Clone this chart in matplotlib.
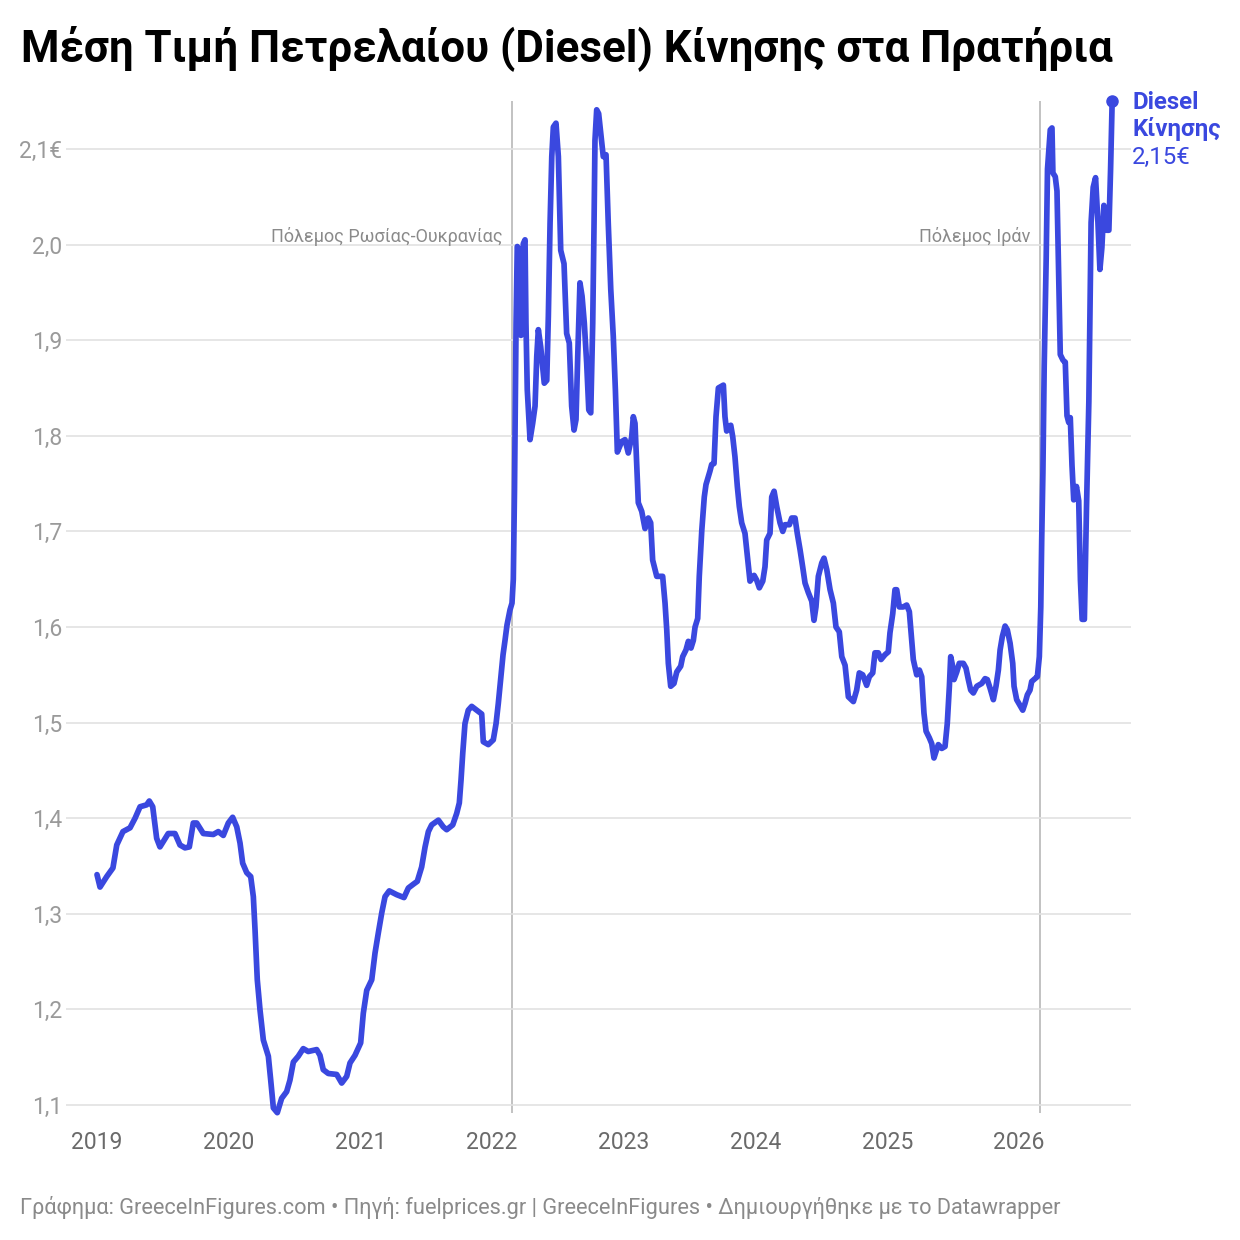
import matplotlib
matplotlib.use("Agg")
import matplotlib.pyplot as plt
from matplotlib.ticker import FixedLocator

plt.rcParams['font.family'] = ['Roboto', 'DejaVu Sans']

# ---------------- data ----------------
years = [
    2019.000, 2019.023, 2019.074, 2019.121, 2019.150, 2019.197, 2019.251, 2019.289, 2019.327, 2019.377,
    2019.397, 2019.423, 2019.453, 2019.478, 2019.541, 2019.592, 2019.630, 2019.668, 2019.701, 2019.731,
    2019.757, 2019.807, 2019.883, 2019.921, 2019.959, 2019.997, 2020.030, 2020.061, 2020.086, 2020.106,
    2020.137, 2020.167, 2020.187, 2020.200, 2020.217, 2020.238, 2020.263, 2020.301, 2020.319, 2020.339,
    2020.369, 2020.402, 2020.440, 2020.465, 2020.491, 2020.528, 2020.566, 2020.604, 2020.668, 2020.693,
    2020.718, 2020.756, 2020.820, 2020.858, 2020.896, 2020.921, 2020.959, 2021.002, 2021.022, 2021.048,
    2021.086, 2021.111, 2021.136, 2021.162, 2021.187, 2021.219, 2021.276, 2021.331, 2021.364, 2021.402,
    2021.432, 2021.465, 2021.491, 2021.516, 2021.541, 2021.592, 2021.629, 2021.655, 2021.701, 2021.731,
    2021.751, 2021.764, 2021.777, 2021.794, 2021.819, 2021.845, 2021.883, 2021.921, 2021.933, 2021.971,
    2022.009, 2022.030, 2022.047, 2022.065, 2022.083, 2022.098, 2022.113, 2022.136, 2022.151, 2022.161,
    2022.170, 2022.182, 2022.191, 2022.207, 2022.219, 2022.237, 2022.250, 2022.257, 2022.267, 2022.288,
    2022.308, 2022.326, 2022.339, 2022.351, 2022.369, 2022.384, 2022.396, 2022.415, 2022.427, 2022.440,
    2022.453, 2022.465, 2022.485, 2022.503, 2022.521, 2022.546, 2022.566, 2022.586, 2022.604, 2022.622,
    2022.637, 2022.650, 2022.667, 2022.683, 2022.700, 2022.718, 2022.734, 2022.749, 2022.764, 2022.774,
    2022.781, 2022.794, 2022.809, 2022.825, 2022.844, 2022.865, 2022.882, 2022.901, 2022.920, 2022.936,
    2022.951, 2022.984, 2023.009, 2023.034, 2023.060, 2023.072, 2023.085, 2023.098, 2023.110, 2023.136,
    2023.161, 2023.186, 2023.204, 2023.219, 2023.250, 2023.295, 2023.313, 2023.326, 2023.338, 2023.356,
    2023.381, 2023.402, 2023.432, 2023.447, 2023.472, 2023.490, 2023.510, 2023.528, 2023.541, 2023.561,
    2023.573, 2023.592, 2023.611, 2023.624, 2023.654, 2023.667, 2023.685, 2023.700, 2023.718, 2023.756,
    2023.768, 2023.781, 2023.812, 2023.827, 2023.844, 2023.862, 2023.877, 2023.895, 2023.920, 2023.938,
    2023.958, 2023.989, 2024.009, 2024.029, 2024.055, 2024.072, 2024.085, 2024.110, 2024.123, 2024.141,
    2024.161, 2024.186, 2024.207, 2024.224, 2024.257, 2024.275, 2024.300, 2024.317, 2024.338, 2024.358,
    2024.376, 2024.401, 2024.427, 2024.444, 2024.459, 2024.477, 2024.503, 2024.520, 2024.541, 2024.566,
    2024.591, 2024.611, 2024.636, 2024.655, 2024.680, 2024.705, 2024.743, 2024.768, 2024.788, 2024.814,
    2024.844, 2024.864, 2024.890, 2024.907, 2024.932, 2024.953, 2024.983, 2025.008, 2025.021, 2025.042,
    2025.059, 2025.072, 2025.092, 2025.122, 2025.148, 2025.168, 2025.186, 2025.198, 2025.224, 2025.244,
    2025.262, 2025.279, 2025.295, 2025.320, 2025.338, 2025.355, 2025.371, 2025.388, 2025.414, 2025.439,
    2025.456, 2025.472, 2025.482, 2025.497, 2025.507, 2025.528, 2025.547, 2025.578, 2025.598, 2025.616,
    2025.634, 2025.654, 2025.680, 2025.718, 2025.743, 2025.760, 2025.781, 2025.806, 2025.826, 2025.844,
    2025.857, 2025.874, 2025.895, 2025.912, 2025.933, 2025.953, 2025.963, 2025.983, 2026.008, 2026.029,
    2026.046, 2026.064, 2026.084, 2026.097, 2026.122, 2026.140, 2026.155, 2026.166, 2026.173, 2026.182,
    2026.192, 2026.207, 2026.217, 2026.238, 2026.251, 2026.258, 2026.276, 2026.289, 2026.302, 2026.314,
    2026.335, 2026.352, 2026.365, 2026.378, 2026.390, 2026.403, 2026.416, 2026.437, 2026.454, 2026.467,
    2026.480, 2026.497, 2026.513, 2026.531, 2026.548, 2026.564, 2026.582, 2026.600, 2026.615, 2026.630,
    2026.645, 2026.666, 2026.683, 2026.696, 2026.708,
]
prices = [
    1.341, 1.328, 1.339, 1.348, 1.372, 1.386, 1.390, 1.400, 1.412, 1.414,
    1.418, 1.412, 1.379, 1.370, 1.384, 1.384, 1.372, 1.369, 1.370, 1.395,
    1.395, 1.384, 1.383, 1.386, 1.382, 1.395, 1.401, 1.391, 1.374, 1.353,
    1.343, 1.339, 1.318, 1.283, 1.231, 1.199, 1.168, 1.151, 1.126, 1.097,
    1.092, 1.107, 1.114, 1.126, 1.145, 1.151, 1.159, 1.156, 1.158, 1.152,
    1.137, 1.133, 1.132, 1.123, 1.130, 1.144, 1.152, 1.165, 1.196, 1.220,
    1.231, 1.259, 1.280, 1.301, 1.318, 1.324, 1.320, 1.317, 1.327, 1.331,
    1.334, 1.349, 1.370, 1.386, 1.393, 1.398, 1.391, 1.388, 1.393, 1.405,
    1.416, 1.440, 1.468, 1.499, 1.513, 1.517, 1.513, 1.509, 1.480, 1.477,
    1.482, 1.499, 1.520, 1.545, 1.571, 1.586, 1.602, 1.618, 1.625, 1.650,
    1.743, 1.918, 1.998, 1.994, 1.905, 2.001, 2.005, 1.918, 1.848, 1.796,
    1.813, 1.831, 1.883, 1.911, 1.893, 1.872, 1.855, 1.858, 1.925, 2.022,
    2.092, 2.123, 2.127, 2.092, 1.994, 1.980, 1.907, 1.897, 1.831, 1.806,
    1.817, 1.883, 1.960, 1.946, 1.918, 1.876, 1.827, 1.824, 1.918, 2.022,
    2.109, 2.141, 2.137, 2.116, 2.092, 2.094, 2.022, 1.953, 1.904, 1.848,
    1.783, 1.794, 1.796, 1.782, 1.799, 1.820, 1.813, 1.771, 1.730, 1.721,
    1.703, 1.714, 1.709, 1.670, 1.653, 1.653, 1.625, 1.597, 1.562, 1.538,
    1.541, 1.553, 1.559, 1.569, 1.576, 1.585, 1.578, 1.586, 1.600, 1.609,
    1.653, 1.701, 1.736, 1.749, 1.763, 1.770, 1.771, 1.820, 1.850, 1.853,
    1.820, 1.805, 1.811, 1.799, 1.778, 1.747, 1.726, 1.709, 1.698, 1.674,
    1.648, 1.654, 1.649, 1.641, 1.648, 1.663, 1.691, 1.698, 1.736, 1.742,
    1.726, 1.709, 1.700, 1.707, 1.707, 1.714, 1.714, 1.698, 1.681, 1.663,
    1.646, 1.636, 1.627, 1.607, 1.621, 1.653, 1.667, 1.672, 1.660, 1.639,
    1.625, 1.600, 1.595, 1.569, 1.560, 1.527, 1.522, 1.534, 1.552, 1.550,
    1.539, 1.548, 1.552, 1.573, 1.573, 1.566, 1.571, 1.574, 1.594, 1.614,
    1.639, 1.639, 1.621, 1.621, 1.623, 1.616, 1.586, 1.566, 1.550, 1.555,
    1.548, 1.510, 1.491, 1.484, 1.478, 1.463, 1.470, 1.477, 1.473, 1.475,
    1.499, 1.538, 1.569, 1.559, 1.545, 1.553, 1.562, 1.562, 1.557, 1.545,
    1.534, 1.531, 1.538, 1.541, 1.546, 1.545, 1.536, 1.524, 1.538, 1.555,
    1.576, 1.590, 1.601, 1.597, 1.583, 1.562, 1.538, 1.524, 1.518, 1.513,
    1.520, 1.529, 1.534, 1.543, 1.546, 1.548, 1.569, 1.621, 1.691, 1.761,
    1.873, 1.985, 2.079, 2.120, 2.122, 2.075, 2.071, 2.056, 1.967, 1.885,
    1.879, 1.877, 1.821, 1.814, 1.819, 1.769, 1.733, 1.747, 1.732, 1.649,
    1.608, 1.608, 1.724, 1.836, 2.023, 2.060, 2.070, 2.023, 1.974, 1.997,
    2.041, 2.015, 2.015, 2.079, 2.150,
]

year_ticks = [2019, 2020, 2021, 2022, 2023, 2024, 2025, 2026]
year_labels = ["2019", "2020", "2021", "2022", "2023", "2024", "2025", "2026"]
price_ticks = [1.1, 1.2, 1.3, 1.4, 1.5, 1.6, 1.7, 1.8, 1.9, 2.0, 2.1]
price_labels = ["1,1", "1,2", "1,3", "1,4", "1,5", "1,6", "1,7", "1,8", "1,9", "2,0", "2,1€"]

events = [2022.151, 2026.162]
event_labels = ["Πόλεμος Ρωσίας-Ουκρανίας", "Πόλεμος Ιράν"]

title = "Μέση Τιμή Πετρελαίου (Diesel) Κίνησης στα Πρατήρια"
footer = ("Γράφημα: GreeceInFigures.com • Πηγή: fuelprices.gr | GreeceInFigures • "
          "Δημιουργήθηκε με το Datawrapper")
series_name = "Diesel\nΚίνησης"
last_label = "2,15€"

# ---------------- style ----------------
BLUE = "#3a48df"
W = H = 1240
fig = plt.figure(figsize=(12.4, 12.4), dpi=100)
fig.patch.set_facecolor("white")

ax_left, ax_right = 66 / W, 1131 / W
ax_bottom, ax_top = 1 - 1114.6 / H, 1 - 96.4 / H
ax = fig.add_axes([ax_left, ax_bottom, ax_right - ax_left, ax_top - ax_bottom])

ax.set_xlim(2018.7646, 2026.851)
ax.set_ylim(1.09, 2.155)

for s in ax.spines.values():
    s.set_visible(False)

ax.yaxis.set_major_locator(FixedLocator(price_ticks))
ax.set_yticklabels(price_labels)
ax.xaxis.set_major_locator(FixedLocator(year_ticks))
ax.set_xticklabels(year_labels)

ax.tick_params(axis="y", length=0, pad=3, labelsize=16.5, labelcolor="#9a9a9a")
ax.tick_params(axis="x", length=0, pad=12, labelsize=16.5, labelcolor="#6a6a6a")
ax.grid(axis="y", color="#e2e2e2", linewidth=1.2, zorder=0)
ax.grid(axis="x", visible=False)

# event lines
for ev, lab in zip(events, event_labels):
    ax.vlines(ev, 1.0916, 2.150, color="#bdbdbd", linewidth=1.3, zorder=1)
    ax.annotate(lab, xy=(ev, 2.008), xytext=(-7, 0), textcoords="offset points",
                ha="right", va="center", fontsize=13, color="#8a8a8a")

# series
ax.plot(years, prices, color=BLUE, linewidth=4.1, solid_joinstyle="round",
        solid_capstyle="round", zorder=3, clip_on=False)
ax.plot([years[-1]], [prices[-1]], "o", color=BLUE, markersize=8, zorder=4, clip_on=False)

ax.annotate(series_name, xy=(years[-1], prices[-1]), xytext=(14.5, 7.5), textcoords="offset points",
            ha="left", va="top", fontsize=17.3, fontweight="bold", color=BLUE,
            linespacing=1.15, annotation_clip=False)
ax.annotate(last_label, xy=(years[-1], prices[-1]), xytext=(14.5, -32), textcoords="offset points",
            ha="left", va="top", fontsize=17.3, color=BLUE, annotation_clip=False)

# title & footer
fig.text(21 / W, 1 - 61 / H, title, ha="left", va="baseline", fontsize=31.6,
         fontweight="bold", color="#000000")
fig.text(20 / W, 1 - 1214 / H, footer, ha="left", va="baseline", fontsize=15.7,
         color="#8a8a8a")

fig.savefig("out.png", dpi=100, facecolor="white")
